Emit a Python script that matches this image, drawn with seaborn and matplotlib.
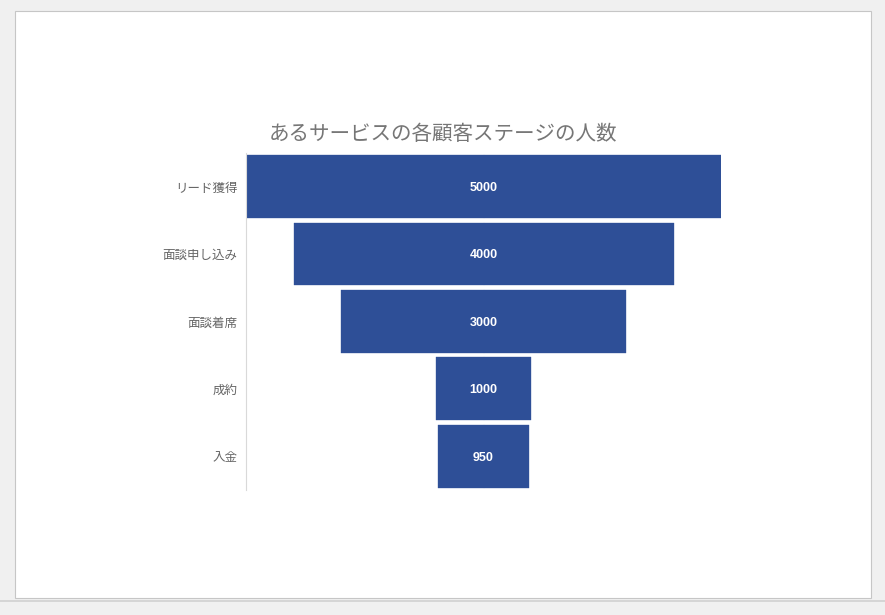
import matplotlib
matplotlib.use("Agg")
import matplotlib.pyplot as plt
import seaborn as sns
import pandas as pd
from matplotlib.patches import Rectangle
from matplotlib.lines import Line2D
from matplotlib.transforms import offset_copy

stages = ["リード獲得", "面談申し込み", "面談着席", "成約", "入金"]
counts = [5000, 4000, 3000, 1000, 950]
title = "あるサービスの各顧客ステージの人数"

BAR = "#2E4F97"

sns.set_theme(style="white")
plt.rcParams["font.family"] = ["Noto Sans CJK JP", "DejaVu Sans"]

fig = plt.figure(figsize=(8.85, 6.15), dpi=100)
fig.patch.set_facecolor("#f0f0f0")

# white panel
fig.patches.append(Rectangle((15/885, 17/615), 856/885, 587/615, transform=fig.transFigure,
                             facecolor="white", edgecolor="#c6c6c6", linewidth=0.8, zorder=-5))
fig.lines.append(Line2D([0, 1], [14/615, 14/615], transform=fig.transFigure,
                        color="#d0d0d0", linewidth=1.2, zorder=-5))

ax = fig.add_axes([246/885, 125/615, 475/885, 337.2/615])
ax.set_facecolor("white")

df = pd.DataFrame({"stage": stages, "count": counts})
df["half_r"] = df["count"] / 2
df["half_l"] = -df["count"] / 2

sns.barplot(data=df, y="stage", x="half_r", orient="h", color=BAR, width=0.93,
            saturation=1, edgecolor=BAR, linewidth=0.25, ax=ax)
sns.barplot(data=df, y="stage", x="half_l", orient="h", color=BAR, width=0.93,
            saturation=1, edgecolor=BAR, linewidth=0.25, ax=ax)

ax.set_xlim(-2500, 2500)
ax.set_ylim(4.5, -0.5)
ax.set_xlabel("")
ax.set_ylabel("")
ax.set_xticks([])
for s in ["top", "right", "bottom"]:
    ax.spines[s].set_visible(False)
ax.spines["left"].set_color("#d9d9d9")
ax.spines["left"].set_linewidth(0.8)
ax.tick_params(axis="y", length=0, pad=6, labelsize=9, labelcolor="#666666")

tr = offset_copy(ax.transData, fig=fig, x=0, y=-1.5, units="dots")
for i, c in enumerate(counts):
    ax.text(0, i, str(c), ha="center", va="center", color="white", transform=tr,
            fontsize=9, fontweight="semibold", family=["Liberation Sans", "DejaVu Sans"])

fig.text(443.5/885, (615-134)/615, title, ha="center", va="center",
         fontsize=14.8, color="#767676")

fig.savefig("out.png", dpi=100, facecolor=fig.get_facecolor())
